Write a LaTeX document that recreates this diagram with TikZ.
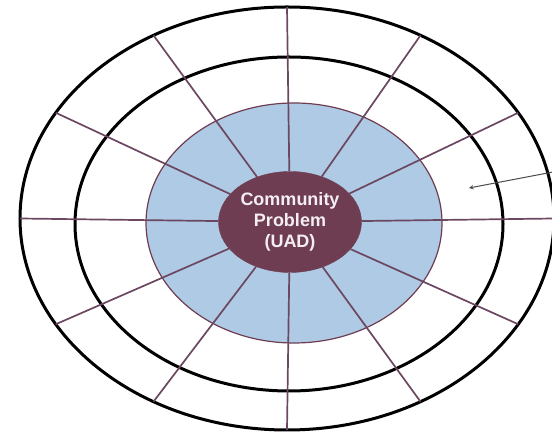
\documentclass[tikz,border=0pt]{standalone}
\usepackage{xcolor}
\usepackage{fontspec}
\setsansfont{Liberation Sans}
\usepackage{tikz}
\usetikzlibrary{shapes,arrows,calc}
\definecolor{plum}{HTML}{6E3D51}
\definecolor{spokegray}{HTML}{6B4760}
\definecolor{ringblue}{HTML}{AFCAE5}
\definecolor{hubtext}{HTML}{F4EEF2}
\tikzstyle{hub} = [ellipse, fill=plum, draw=plum, minimum width=143pt, minimum
height=101pt, inner sep=0pt, text=hubtext, align=center, font=\sffamily\bfseries\fontsize{18}{21}\selectfont]
\tikzstyle{ring} = [draw=black, line width=3pt]
\tikzstyle{spoke} = [draw=spokegray, line width=1.7pt]
\tikzstyle{arrow1} = [draw=black!70, line width=1pt, ->, >=stealth]

\begin{document}
\begin{tikzpicture}[x=1pt, y=1pt]
\useasboundingbox (0,0) rectangle (552,433);

% Place rings
\fill [ringblue, draw=plum, line width=1.2pt] (294,210) ellipse [x radius=148, y radius=120];
\draw [ring] (289,209) ellipse [x radius=214, y radius=167];
\draw [ring] (287,214.5) ellipse [x radius=267, y radius=211.5];

% Place nodes
\coordinate (c) at (287,214.5);
\node [hub] (problem) at (290,211) {Community\\Problem\\(UAD)};

% Place lines
\draw [spoke] (problem) -- ($(c)+(0:267 and 211.5)$);
\draw [spoke] (problem) -- ($(c)+(30:267 and 211.5)$);
\draw [spoke] (problem) -- ($(c)+(60:267 and 211.5)$);
\draw [spoke] (problem) -- ($(c)+(90:267 and 211.5)$);
\draw [spoke] (problem) -- ($(c)+(120:267 and 211.5)$);
\draw [spoke] (problem) -- ($(c)+(150:267 and 211.5)$);
\draw [spoke] (problem) -- ($(c)+(180:267 and 211.5)$);
\draw [spoke] (problem) -- ($(c)+(210:267 and 211.5)$);
\draw [spoke] (problem) -- ($(c)+(240:267 and 211.5)$);
\draw [spoke] (problem) -- ($(c)+(270:267 and 211.5)$);
\draw [spoke] (problem) -- ($(c)+(300:267 and 211.5)$);
\draw [spoke] (problem) -- ($(c)+(330:267 and 211.5)$);

% Place pointer
\coordinate (pointerstart) at (553,261);
\coordinate (pointerend) at (469,245);
\draw [arrow1] (pointerstart) -- (pointerend);

\end{tikzpicture}
\end{document}
